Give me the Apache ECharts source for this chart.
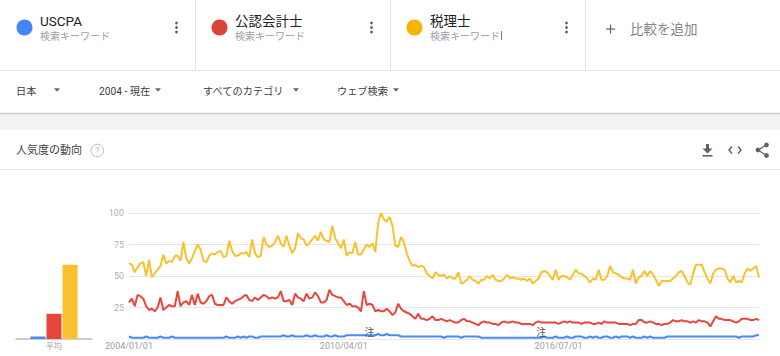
<!DOCTYPE html>
<html>
<head>
<meta charset="utf-8">
<script src="https://cdn.jsdelivr.net/npm/echarts@6/dist/echarts.min.js"></script>
<style>
html,body{margin:0;padding:0;background:#fff;}
#chart{width:780px;height:356px;}
</style>
</head>
<body>
<div id="chart"></div>
<script>
// ---- data ----
const seriesNames = ['USCPA', '公認会計士', '税理士'];
const xTickLabels = ['2004/01/01', '2010/04/01', '2016/07/01'];
const yTickValues = [25, 50, 75, 100];
const noteDates = ['2011/01/01', '2016/01/01'];
const avgLabel = ['平均'];
const avgValues = [2, 20, 59];

const uscpa = [
 2,1,1,1,1,1,2,1,1,1, 1,2,1,1,1,2,1,1,1,1,
 1,1,1,1,1,1,1,1,1,1, 1,1,1,1,2,1,1,1,2,1,
 2,1,2,2,1,1,2,2,2,2, 2,2,2,2,3,2,2,3,2,2,
 2,2,3,2,2,3,2,2,2,3, 2,2,3,2,2,2,3,3,3,3,
 3,3,3,3,3,3,3,4,3,3, 4,3,3,3,3,2,2,2,2,2,
 2,2,2,2,2,2,2,2,2,2, 1,2,2,2,2,2,1,2,2,2,
 2,2,2,1,1,1,1,1,1,1, 1,1,1,1,1,1,1,1,1,1,
 1,1,1,1,1,2,1,1,1,2, 1,1,1,2,1,1,2,2,2,1,
 1,2,1,2,1,1,2,2,1,1, 2,1,2,2,2,1,2,1,1,1,
 2,1,2,1,1,1,1,1,2,2, 2,2,2,2,2,2,2,2,2,2,
 2,2,2,2,2,2,2,2,2,2, 2,2,2,1,2,2,2,2,2,3,3
];
const cpa = [
 29,32,26,35,34,32,26,23,24,22, 25,33,23,25,27,26,26,38,26,29,
 30,27,35,27,36,29,28,30,34,35, 28,27,27,27,33,30,28,30,31,32,
 34,35,31,30,33,31,33,35,34,32, 33,32,33,38,30,30,31,27,36,33,
 32,30,36,32,33,37,34,29,29,31, 39,35,34,33,33,30,27,28,26,26,
 25,22,38,27,28,27,22,23,22,22, 24,22,19,21,28,24,22,21,20,18,
 16,20,16,16,15,16,18,15,15,16, 15,14,15,14,13,13,15,16,14,14,
 13,12,11,13,14,13,13,12,12,11, 13,14,13,13,14,13,13,12,12,12,
 12,11,13,14,13,13,13,13,13,13, 12,13,14,13,14,13,13,13,12,13,
 13,13,12,12,13,12,14,13,13,13, 13,12,12,12,12,11,12,12,15,15,
 13,13,14,13,12,12,11,12,12,13, 15,14,14,15,14,14,13,14,13,15,
 14,14,13,10,14,18,16,16,15,15, 15,14,13,14,16,16,16,15,15,16,15
];
const taxAcc = [
 60,59,53,57,60,61,50,63,49,52, 55,58,67,60,62,61,66,66,62,77,
 64,60,64,70,75,71,62,61,66,68, 67,69,70,65,66,78,70,66,66,68,
 68,69,65,79,68,65,66,81,75,73, 74,77,82,76,73,82,74,68,72,84,
 80,79,74,76,79,82,78,85,79,78, 77,90,80,76,72,79,66,69,68,77,
 67,67,71,75,73,76,69,92,100,95, 93,97,90,74,73,81,77,68,62,58,
 59,57,58,57,52,50,48,53,51,50, 51,48,50,48,48,53,44,45,47,50,
 47,46,44,47,47,50,48,51,47,46, 46,48,51,48,49,48,48,47,48,46,
 48,44,46,48,53,54,53,50,47,55, 47,50,50,49,47,51,55,52,52,50,
 48,45,48,47,55,47,47,50,58,53, 52,51,49,48,48,47,55,44,49,50,
 54,50,54,51,47,42,46,46,46,46, 48,50,53,54,50,45,43,52,59,59,
 59,53,48,44,52,55,56,56,55,48, 45,50,45,46,45,52,56,54,56,58,49
];

// monthly categories 2004/01 ...
const categories = [];
for (let i = 0; i < taxAcc.length; i++) {
  const y = 2004 + Math.floor(i / 12);
  const m = (i % 12) + 1;
  categories.push(y + '/' + String(m).padStart(2, '0') + '/01');
}

// ---- styles ----
const FONT = 'Roboto, "Noto Sans CJK JP", sans-serif';
const dotColors = ['#4285f4', '#db4437', '#f4b400'];
const lineColors = ['#4a8af4', '#e8453c', '#f8c12e'];
const TXT = '#3c4043';
const GRAY = '#5f6368';

function txt(x, y, s, size, color, align) {
  return { type: 'text', x: x, y: y, silent: true,
    style: { text: s, font: size + 'px ' + FONT, fill: color, textAlign: align || 'left', textVerticalAlign: 'middle' } };
}
function ln(x1, y1, x2, y2, color, w) {
  return { type: 'line', silent: true, shape: { x1: x1, y1: y1, x2: x2, y2: y2 }, style: { stroke: color, lineWidth: w || 1 } };
}
function tri(cx, cy) {
  return { type: 'polygon', silent: true, shape: { points: [[cx - 3, cy - 1.8], [cx + 3, cy - 1.8], [cx, cy + 1.8]] }, style: { fill: '#666' } };
}
function dots(cx) {
  return [23, 27.5, 32].map(cy => ({ type: 'circle', silent: true, shape: { cx: cx, cy: cy, r: 1.4 }, style: { fill: GRAY } }));
}

const graphics = [];
// background bands
graphics.push({ type: 'rect', silent: true, z: -10, shape: { x: 0, y: 113, width: 780, height: 17 }, style: { fill: '#f3f3f3' } });
graphics.push(ln(0, 113.5, 780, 113.5, '#cfcfcf', 1.5));
graphics.push(ln(0, 70.5, 780, 70.5, '#e6e6e6', 1));
graphics.push(ln(195.5, 0, 195.5, 70, '#e6e6e6', 1));
graphics.push(ln(390.5, 0, 390.5, 70, '#e6e6e6', 1));
graphics.push(ln(585.5, 0, 585.5, 70, '#e6e6e6', 1));
graphics.push(ln(0, 169.5, 780, 169.5, '#e6e6e6', 1));

// keyword cards
const cardX = [0, 195, 390];
seriesNames.forEach((name, k) => {
  const ox = cardX[k];
  graphics.push({ type: 'circle', silent: true, shape: { cx: ox + 24.5, cy: 27.5, r: 8 }, style: { fill: dotColors[k] } });
  graphics.push(txt(ox + 40, 20.5, name, 13.5, '#202124'));
  graphics.push(txt(ox + 40, 36, '検索キーワード', 10, '#9aa0a6'));
  dots(ox + 176.5).forEach(d => graphics.push(d));
});
graphics.push(ln(501.5, 31, 501.5, 40, '#555', 0.8));
// add comparison
graphics.push(ln(606, 29, 615, 29, '#666', 1.2));
graphics.push(ln(610.5, 24.5, 610.5, 33.5, '#666', 1.2));
graphics.push(txt(630, 29, '比較を追加', 13.5, '#80868b'));

// filter row
graphics.push(txt(16, 91.5, '日本', 10.2, TXT));
graphics.push(tri(57, 90));
graphics.push(txt(99, 91.5, '2004 - 現在', 10.2, TXT));
graphics.push(tri(158, 90));
graphics.push(txt(203, 91.5, 'すべてのカテゴリ', 10.2, TXT));
graphics.push(tri(296, 90));
graphics.push(txt(337, 91.5, 'ウェブ検索', 10.2, TXT));
graphics.push(tri(396, 90));

// section header
graphics.push(txt(16, 150, '人気度の動向', 11, TXT));
graphics.push({ type: 'circle', silent: true, shape: { cx: 97.3, cy: 150.5, r: 6.3 }, style: { fill: 'none', stroke: '#bdbdbd', lineWidth: 1 } });
graphics.push(txt(97.3, 151, '?', 9, '#bdbdbd', 'center'));

// download icon
graphics.push({ type: 'rect', silent: true, shape: { x: 706, y: 144, width: 3, height: 5 }, style: { fill: GRAY } });
graphics.push({ type: 'polygon', silent: true, shape: { points: [[702.5, 148.5], [712.5, 148.5], [707.5, 153.5]] }, style: { fill: GRAY } });
graphics.push({ type: 'rect', silent: true, shape: { x: 702.5, y: 155, width: 10, height: 1.6 }, style: { fill: GRAY } });
// embed icon
graphics.push({ type: 'polyline', silent: true, shape: { points: [[732, 146.5], [729, 150], [732, 153.5]] }, style: { stroke: GRAY, lineWidth: 1.5, fill: 'none' } });
graphics.push({ type: 'polyline', silent: true, shape: { points: [[738, 146.5], [741, 150], [738, 153.5]] }, style: { stroke: GRAY, lineWidth: 1.5, fill: 'none' } });
// share icon
graphics.push(ln(758, 150, 766.5, 145, GRAY, 1.2));
graphics.push(ln(758, 150, 766.5, 155.5, GRAY, 1.2));
[[766.5, 145], [758, 150], [766.5, 155.5]].forEach(p => graphics.push({ type: 'circle', silent: true, shape: { cx: p[0], cy: p[1], r: 2.4 }, style: { fill: GRAY } }));

const lineData = [uscpa, cpa, taxAcc];
const series = [];
[2, 1, 0].forEach(k => {
  const s = {
    name: seriesNames[k], type: 'line', xAxisIndex: 0, yAxisIndex: 0,
    data: lineData[k], showSymbol: false, symbol: 'none',
    lineStyle: { width: 2, color: lineColors[k] }, itemStyle: { color: lineColors[k] },
    animation: false, z: 3
  };
  if (k === 0) {
    s.markPoint = {
      symbol: 'circle', symbolSize: 1, animation: false,
      itemStyle: { color: 'rgba(0,0,0,0)' },
      label: { show: true, position: 'inside', formatter: '注', color: '#555', fontSize: 10, fontFamily: FONT },
      data: noteDates.map(d => ({ coord: [d, 5] }))
    };
  }
  series.push(s);
});
// average bars
[0, 1, 2].forEach(k => {
  series.push({
    name: seriesNames[k] + '平均', type: 'bar', xAxisIndex: 1, yAxisIndex: 1,
    data: [avgValues[k]], barWidth: 15, barGap: '7%',
    itemStyle: { color: lineColors[k] }, animation: false
  });
});

const chart = echarts.init(document.getElementById('chart'), null, { renderer: 'svg', width: 780, height: 356 });
chart.setOption({
  backgroundColor: '#fff',
  animation: false,
  textStyle: { fontFamily: FONT },
  grid: [
    { left: 129, right: 21, top: 213, height: 126 },
    { left: 16, width: 76, top: 213, height: 126 }
  ],
  xAxis: [
    { type: 'category', gridIndex: 0, data: categories, boundaryGap: false,
      axisLine: { show: false }, axisTick: { show: false },
      axisLabel: { interval: (idx, val) => xTickLabels.includes(val), color: '#a0a0a0', fontSize: 9, margin: 2, fontFamily: FONT },
      splitLine: { show: false } },
    { type: 'category', gridIndex: 1, data: avgLabel,
      axisLine: { show: true, lineStyle: { color: '#bdbdbd', width: 1.5 } }, axisTick: { show: false },
      axisLabel: { color: '#a0a0a0', fontSize: 8, margin: 3, fontFamily: FONT } }
  ],
  yAxis: [
    { type: 'value', gridIndex: 0, min: 0, max: 100, interval: 25,
      axisLine: { show: false }, axisTick: { show: false },
      axisLabel: { color: '#b0b0b0', fontSize: 9, margin: 5, fontFamily: FONT,
        formatter: v => yTickValues.includes(v) ? String(v) : '' },
      splitLine: { lineStyle: { color: '#e6e6e6', width: 1 } } },
    { type: 'value', gridIndex: 1, min: 0, max: 100, show: false, splitLine: { show: false } }
  ],
  graphic: graphics,
  series: series
});
</script>
</body>
</html>
